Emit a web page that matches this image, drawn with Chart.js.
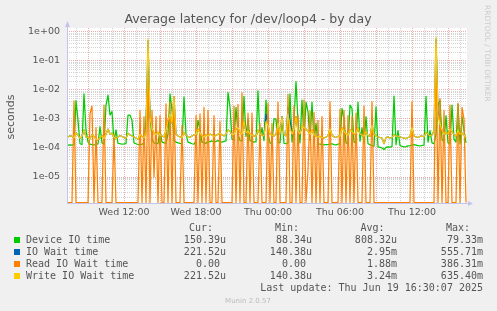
<!DOCTYPE html>
<html>
<head>
<meta charset="utf-8">
<script src="https://cdn.jsdelivr.net/npm/chart.js@4.4.0/dist/chart.umd.min.js"></script>
<style>
html, body { margin: 0; padding: 0; background: #f0f0f0; }
canvas { display: block; }
</style>
</head>
<body>
<canvas id="graph" width="497" height="311"></canvas>
<script>
// one sample every 10 minutes from Wed 07:20, values in microseconds
const startMinute = 440;   // minutes after Wed 00:00
const stepMinutes = 10;

const deviceIO = [
  125,128,126,130,4300,900,140,132,7300,420,
  160,135,130,128,132,138,540,150,135,3000,
  6700,1370,1800,160,420,145,140,135,138,142,
  1370,1370,900,150,140,132,130,135,142,900,
  79330,1370,200,150,145,140,420,160,150,145,
  300,7300,2000,180,160,150,145,140,5700,300,
  160,150,140,135,180,900,420,160,150,145,
  170,165,175,160,170,180,165,160,170,175,
  8100,2600,200,190,2500,300,180,175,6000,250,
  1000,180,170,160,165,9300,200,500,180,4500,
  300,150,140,1000,1000,160,150,1200,145,140,
  150,7300,160,1000,19400,800,150,4500,200,3800,
  1800,180,3800,160,700,140,135,130,128,132,
  130,135,140,130,128,135,140,2300,1000,150,
  140,3000,2300,160,150,3800,170,500,140,1200,
  140,130,120,115,2600,110,105,100,88.34,105,
  110,108,112,6200,130,400,120,115,110,112,
  118,120,125,130,125,120,118,122,125,6000,
  160,400,150,140,300,3000,4500,200,160,1300,
  150,140,3000,200,160,3200,140,1200,400,150.39
];

const ioWait = [
  240,265,250,225,330,280,215,255,420,240,
  230,205,290,250,200,190,230,265,215,300,
  450,300,330,230,210,240,270,250,230,215,
  320,280,260,240,220,200,290,250,230,320,
  500000,1200,450,330,290,350,280,260,240,400,
  900,1500,700,5800,300,260,240,230,350,270,
  250,230,260,280,300,450,330,260,240,280,
  260,300,280,250,270,300,320,280,260,300,
  420,380,280,300,450,500,350,300,900,330,
  380,300,280,260,250,420,300,280,260,1500,
  600,300,280,260,300,700,300,1200,280,260,
  2500,900,300,450,1200,380,300,600,500,450,
  380,300,420,280,260,240,250,230,220,240,
  260,450,280,240,230,250,260,500,380,300,
  280,420,380,300,330,500,300,280,260,380,
  270,250,600,300,260,240,230,220,140.38,230,
  240,220,230,290,250,260,240,230,220,210,
  230,240,500,260,240,230,250,260,240,350,
  300,260,280,400,555710,2000,700,400,300,350,
  300,450,380,280,260,420,300,330,280,221.52
];

const readWait = [
  0,0,0,4200,0,0,0,0,0,0,
  0,1500,2800,0,500,0,0,0,3000,0,
  0,0,0,300,0,0,0,0,0,0,
  0,0,0,0,0,0,2000,0,1200,0,
  30000,0,2000,10,1200,0,1300,0,0,3300,
  0,3800,0,5900,0,0,0,600,0,0,
  0,0,0,0,1300,0,1500,0,2500,0,
  2000,0,0,1300,0,0,800,0,0,0,
  0,0,0,2800,0,3200,0,7900,0,0,
  1600,0,1600,0,0,0,700,0,0,0,
  3500,0,700,0,0,3800,0,0,0,0,
  7000,0,0,2800,0,1300,0,0,4500,0,
  17,1900,0,1700,0,900,0,1200,0,0,
  0,4000,0,0,0,0,2200,0,2000,0,
  1300,0,1200,0,1600,0,0,0,2800,0,
  0,0,4000,0,0,0,0,0,0,0,
  0,0,0,0,0,0,0,0,0,0,
  0,0,4000,0,0,0,0,0,0,0,
  0,0,0,0,386310,0,5000,0,2000,0,
  0,3000,0,0,0,3500,0,2500,1000,0
];

const writeWait = [
  240,265,250,225,330,280,215,255,420,240,
  230,205,290,250,200,190,230,265,215,300,
  450,300,330,230,210,240,270,250,230,215,
  320,280,260,240,220,200,290,250,230,320,
  560000,1200,450,330,290,350,280,260,240,400,
  900,1500,700,5800,300,260,240,230,350,270,
  250,230,260,280,300,450,330,260,240,280,
  260,300,280,250,270,300,320,280,260,300,
  420,380,280,300,450,500,350,300,900,330,
  380,300,280,260,250,420,300,280,260,800,
  600,300,280,260,300,700,300,1200,280,260,
  1500,500,300,450,1200,380,300,600,500,450,
  380,300,420,280,260,240,250,230,220,240,
  260,450,280,240,230,250,260,500,380,300,
  280,420,380,300,330,500,300,280,260,380,
  270,250,600,300,260,240,230,220,140.38,230,
  240,220,230,290,250,260,240,230,220,210,
  230,240,500,260,240,230,250,260,240,350,
  300,260,280,400,635400,1200,700,400,300,350,
  300,450,380,280,260,420,300,330,280,221.52
];

const seriesNames = ['Device IO time', 'IO Wait time', 'Read IO Wait time', 'Write IO Wait time'];
const seriesColors = ['#00cc00', '#0066b3', '#ff8000', '#ffcc00'];
const curVals = ['150.39u', '221.52u', '0.00 ', '221.52u'];
const minVals = ['88.34u', '140.38u', '0.00 ', '140.38u'];
const avgVals = ['808.32u', '2.95m', '1.88m', '3.24m'];
const maxVals = ['79.33m', '555.71m', '386.31m', '635.40m'];

const xTickMinutes = [720, 1080, 1440, 1800, 2160];
const xTickLabels = ['Wed 12:00', 'Wed 18:00', 'Thu 00:00', 'Thu 06:00', 'Thu 12:00'];
const yDecadeLabels = ['1e+00', '1e-01', '1e-02', '1e-03', '1e-04', '1e-05'];

const yMin = 1.27e-6, yMax = 1.37;
const minorGrid = '#d4d4d4';
const majorGrid = '#efaaaa';
const textColor = '#555';

function toPoints(arr) {
  return arr.map(function(v, i) {
    return { x: startMinute + i * stepMinutes, y: v === 0 ? yMin * 1.04 : v * 1e-6 };
  });
}

const allSeries = [deviceIO, ioWait, readWait, writeWait];

const decor = {
  id: 'decor',
  beforeDraw(chart) {
    const ctx = chart.ctx, a = chart.chartArea;
    ctx.save();
    ctx.fillStyle = '#f0f0f0';
    ctx.fillRect(0, 0, chart.width, chart.height);
    ctx.fillStyle = '#ffffff';
    ctx.fillRect(a.left, a.top, a.right - a.left, a.bottom - a.top);
    ctx.restore();
  },
  beforeDatasetsDraw(chart) {
    const ctx = chart.ctx, a = chart.chartArea;
    ctx.save();
    ctx.strokeStyle = 'rgba(195,195,235,1)';
    ctx.fillStyle = 'rgba(195,195,235,1)';
    ctx.lineWidth = 1;
    ctx.beginPath();
    ctx.moveTo(a.left + 0.5, a.bottom + 0.5);
    ctx.lineTo(a.left + 0.5, a.top - 4);
    ctx.moveTo(a.left, a.bottom + 0.5);
    ctx.lineTo(a.right + 2, a.bottom + 0.5);
    ctx.stroke();
    ctx.beginPath();
    ctx.moveTo(a.left + 0.5, a.top - 7);
    ctx.lineTo(a.left - 2, a.top - 1);
    ctx.lineTo(a.left + 3, a.top - 1);
    ctx.fill();
    ctx.beginPath();
    ctx.moveTo(a.right + 6, a.bottom + 0.5);
    ctx.lineTo(a.right + 1, a.bottom - 2);
    ctx.lineTo(a.right + 1, a.bottom + 3);
    ctx.fill();
    ctx.restore();
  },
  afterDraw(chart) {
    const ctx = chart.ctx;
    ctx.save();
    // title
    ctx.fillStyle = textColor;
    ctx.font = '12.5px "DejaVu Sans"';
    ctx.textAlign = 'center';
    ctx.textBaseline = 'alphabetic';
    ctx.fillText('Average latency for /dev/loop4 - by day', 248, 23);

    // vertical axis title
    ctx.save();
    ctx.translate(11, 117);
    ctx.rotate(-Math.PI / 2);
    ctx.font = '11px "DejaVu Sans"';
    ctx.textBaseline = 'middle';
    ctx.fillText('seconds', 0, 0);
    ctx.restore();

    // watermark
    ctx.save();
    ctx.translate(487, 5);
    ctx.rotate(Math.PI / 2);
    ctx.font = '7.5px "DejaVu Sans"';
    ctx.fillStyle = '#cccccc';
    ctx.textAlign = 'left';
    ctx.textBaseline = 'middle';
    ctx.fillText('RRDTOOL / TOBI OETIKER', 0, 0);
    ctx.restore();

    // legend table
    ctx.font = '10px "DejaVu Sans Mono"';
    ctx.textBaseline = 'alphabetic';
    ctx.textAlign = 'right';
    ctx.fillStyle = textColor;
    ctx.fillText('Cur:', 213, 231);
    ctx.fillText('Min:', 299, 231);
    ctx.fillText('Avg:', 384.5, 231);
    ctx.fillText('Max:', 470, 231);
    for (let k = 0; k < seriesNames.length; k++) {
      const base = 243 + k * 12;
      ctx.fillStyle = seriesColors[k];
      ctx.fillRect(14, base - 6, 6, 6);
      ctx.fillStyle = textColor;
      ctx.textAlign = 'left';
      ctx.fillText(seriesNames[k], 26, base);
      ctx.textAlign = 'right';
      ctx.fillText(curVals[k], 226, base);
      ctx.fillText(minVals[k], 312, base);
      ctx.fillText(avgVals[k], 397, base);
      ctx.fillText(maxVals[k], 483, base);
    }
    ctx.fillText('Last update: Thu Jun 19 16:30:07 2025', 483, 291);

    ctx.font = '7px "DejaVu Sans"';
    ctx.fillStyle = '#bbbbbb';
    ctx.textAlign = 'center';
    ctx.fillText('Munin 2.0.57', 248, 303);
    ctx.restore();
  }
};

new Chart(document.getElementById('graph'), {
  type: 'line',
  data: {
    datasets: allSeries.map(function(arr, k) {
      return {
        label: seriesNames[k],
        data: toPoints(arr),
        borderColor: seriesColors[k],
        backgroundColor: seriesColors[k],
        borderWidth: 1.25,
        pointRadius: 0,
        fill: false,
        tension: 0,
        borderJoinStyle: 'round',
        order: 4 - k
      };
    })
  },
  options: {
    responsive: false,
    devicePixelRatio: 1,
    animation: false,
    events: [],
    layout: { padding: { top: 28, right: 30, left: 0, bottom: 0 } },
    plugins: {
      legend: { display: false },
      tooltip: { enabled: false },
      title: { display: false }
    },
    scales: {
      x: {
        type: 'linear',
        min: 435,
        max: 2435,
        afterBuildTicks: function(scale) {
          const t = [];
          for (let m = 480; m <= 2400; m += 60) t.push({ value: m, maj: m % 180 === 0 });
          scale.ticks = t;
        },
        afterFit: function(scale) { scale.height = 108; },
        ticks: {
          autoSkip: false,
          maxRotation: 0,
          padding: 4,
          color: textColor,
          font: { family: 'DejaVu Sans', size: 9.5 },
          callback: function(v) {
            const k = xTickMinutes.indexOf(v);
            return k >= 0 ? xTickLabels[k] : '';
          }
        },
        grid: {
          drawTicks: false,
          lineWidth: 1,
          color: function(c) { return c.tick && c.tick.maj ? majorGrid : minorGrid; }
        },
        border: { display: false, dash: [1, 1] }
      },
      y: {
        type: 'logarithmic',
        min: yMin,
        max: yMax,
        afterBuildTicks: function(scale) {
          const t = [];
          for (let e = -6; e <= 0; e++) {
            for (let m = 1; m <= 9; m++) {
              const v = m * Math.pow(10, e);
              if (v >= yMin && v <= yMax) {
                t.push({ value: v, maj: m === 1, lab: m === 1 ? yDecadeLabels[-e] : '' });
              }
            }
          }
          scale.ticks = t;
        },
        afterFit: function(scale) { scale.width = 67; },
        ticks: {
          autoSkip: false,
          padding: 7,
          color: textColor,
          font: { family: 'DejaVu Sans', size: 9.5 },
          callback: function(v, i, ticks) { return ticks[i].lab || ''; }
        },
        grid: {
          drawTicks: false,
          lineWidth: 1,
          color: function(c) { return c.tick && c.tick.maj ? majorGrid : minorGrid; }
        },
        border: { display: false, dash: [1, 1] }
      }
    }
  },
  plugins: [decor]
});
</script>
</body>
</html>
